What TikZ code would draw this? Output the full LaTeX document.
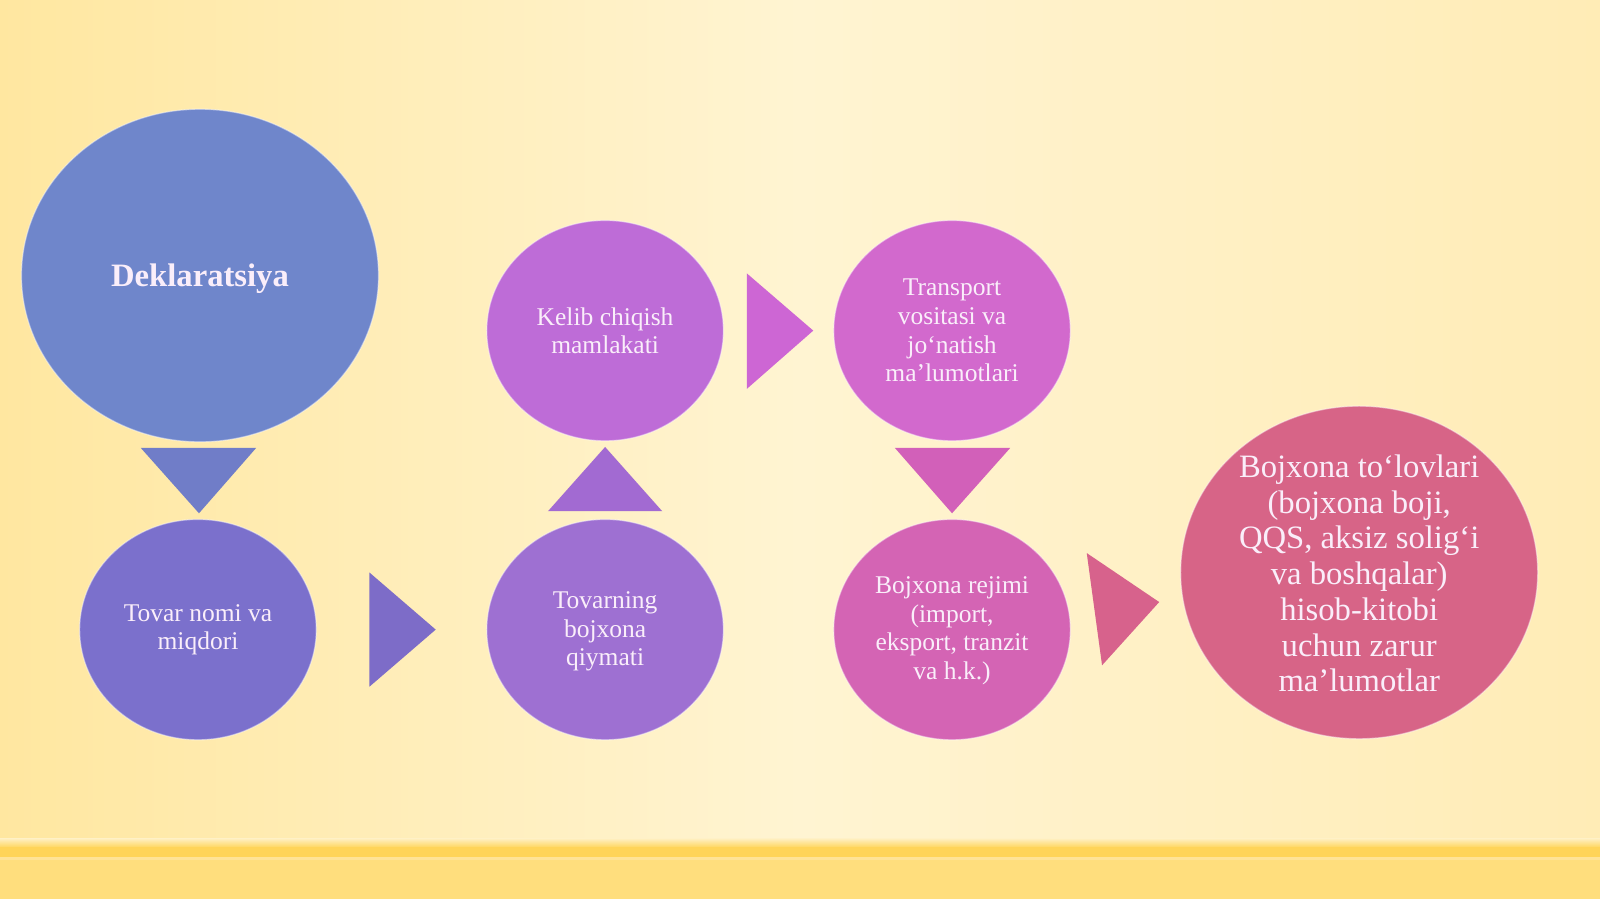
\documentclass[tikz,border=0pt]{standalone}
\usepackage{fontspec}
\setmainfont{Liberation Serif}
\usetikzlibrary{shapes.geometric}
\definecolor{bgA}{RGB}{255,231,160}
\definecolor{bgB}{RGB}{255,244,210}
\definecolor{bgC}{RGB}{255,236,182}
\definecolor{bandline}{RGB}{255,212,88}
\definecolor{bandlight}{RGB}{255,227,150}
\definecolor{band}{RGB}{255,222,125}
\definecolor{txt}{RGB}{250,238,250}
\definecolor{cA}{RGB}{111,134,203}
\definecolor{cB}{RGB}{123,112,204}
\definecolor{cC}{RGB}{158,112,210}
\definecolor{cD}{RGB}{190,108,215}
\definecolor{cE}{RGB}{210,105,205}
\definecolor{cF}{RGB}{212,100,180}
\definecolor{cG}{RGB}{215,100,135}
\definecolor{tA}{RGB}{112,125,200}
\definecolor{tB}{RGB}{125,108,200}
\definecolor{tC}{RGB}{162,106,210}
\definecolor{tD}{RGB}{205,102,212}
\definecolor{tE}{RGB}{210,96,185}
\definecolor{tF}{RGB}{215,98,140}
\begin{document}
\begin{tikzpicture}[x=1pt,y=-1pt,
  blob/.style={ellipse, inner sep=0pt, draw=white, draw opacity=0.45, line width=1.2pt},
  smallblob/.style={blob, minimum width=232pt, minimum height=216pt},
  bigblob/.style={blob, minimum width=350pt, minimum height=326pt},
  lbl/.style={align=center, text=txt, inner sep=0pt, font=\fontsize{25}{28}\selectfont},
  biglbl/.style={align=center, text=txt, inner sep=0pt, font=\fontsize{32}{35}\selectfont}]
% background
\useasboundingbox (0,0) rectangle (1568,881);
\shade[left color=bgA, right color=bgC, middle color=bgB] (0,0) rectangle (1568,835);
\fill[band] (0,838) rectangle (1568,881);
\shade[top color=bgB!60!bgA, bottom color=bandline] (0,822) rectangle (1568,831);
\fill[bandline] (0,830) rectangle (1568,840);
\fill[bandlight] (0,840) rectangle (1568,843);
% circles
\node[bigblob, fill=cA] (dek) at (196,270) {};
\node[biglbl, font=\fontsize{32}{35}\selectfont\bfseries] (dekT) at ([yshift=-3pt]dek.center) {Deklaratsiya};
\node[smallblob, fill=cB] (tov) at (194,617) {};
\node[lbl] (tovT) at (tov.center) {Tovar nomi va\\miqdori};
\node[smallblob, fill=cC] (qiy) at (593,617) {};
\node[lbl] (qiyT) at ([yshift=-2pt]qiy.center) {Tovarning\\bojxona\\qiymati};
\node[smallblob, fill=cD] (kel) at (593,324) {};
\node[lbl] (kelT) at (kel.center) {Kelib chiqish\\mamlakati};
\node[smallblob, fill=cE] (tra) at (933,324) {};
\node[lbl] (traT) at (tra.center) {Transport\\vositasi va\\jo‘natish\\ma’lumotlari};
\node[smallblob, fill=cF] (rej) at (933,617) {};
\node[lbl] (rejT) at ([yshift=-1pt]rej.center) {Bojxona rejimi\\(import,\\eksport, tranzit\\va h.k.)};
\node[bigblob, fill=cG] (tol) at (1332,561) {};
\node[biglbl] (tolT) at ([yshift=-1pt]tol.center) {Bojxona to‘lovlari\\(bojxona boji,\\QQS, aksiz solig‘i\\va boshqalar)\\hisob-kitobi\\uchun zarur\\ma’lumotlar};
% arrow triangles
\fill[tA] (138,439) -- (251,439) -- (195,503) -- cycle;
\fill[tB] (362,561) -- (362,673) -- (427,617) -- cycle;
\fill[tC] (537,501) -- (649,501) -- (593,438) -- cycle;
\fill[tD] (732,268) -- (732,381) -- (797,324) -- cycle;
\fill[tE] (877,439) -- (990,439) -- (933,503) -- cycle;
\fill[tF] (1065,542) -- (1080,652) -- (1136,590) -- cycle;
\end{tikzpicture}
\end{document}
